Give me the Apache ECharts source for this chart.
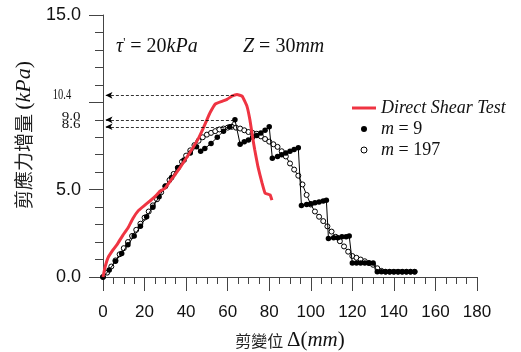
<!DOCTYPE html>
<html><head><meta charset="utf-8">
<script src="https://cdn.jsdelivr.net/npm/echarts@6/dist/echarts.min.js"></script>
<style>html,body{margin:0;padding:0;background:#fff}#c{width:521px;height:352px}</style>
</head><body><div id="c"></div>
<script>
// Displacement (mm) / shear stress increment (kPa)
const directShear = [[0,0],[1,0.57],[2.4,1.1],[4.8,1.55],[7,1.9],[9.6,2.4],[12,2.8],[14.4,3.35],[17,3.8],[20,4.1],[22.6,4.35],[25,4.6],[27.4,4.9],[30,5.1],[33,5.6],[37,6.25],[40,6.8],[43.3,7.4],[46,7.95],[48,8.45],[50,9.0],[51.5,9.4],[54,9.9],[57.3,10.06],[59.7,10.17],[62,10.35],[64.5,10.45],[67,10.35],[69.3,9.77],[70.7,9.0],[72,8.0],[73,7.3],[74.6,6.3],[76.5,5.4],[78,4.8],[80.4,4.7],[81.3,4.4]];
const m9 = [[0,0],[3,0.4],[6,0.9],[9,1.35],[12,1.85],[15,2.35],[18,2.9],[21,3.45],[24,4.0],[27,4.6],[30,5.2],[33,5.7],[36,6.25],[39,6.7],[42,7.1],[45,7.45],[47,7.2],[49,7.35],[52,7.65],[55,8.0],[58,8.35],[61,8.6],[63.5,9.0],[66,7.6],[68,7.75],[70,7.85],[72,8.0],[74,8.1],[76,8.25],[78,8.4],[80,8.6],[81.5,6.8],[84,6.9],[86,7.0],[88,7.1],[90,7.2],[92,7.3],[94,7.4],[95.5,4.1],[98,4.15],[100,4.2],[102,4.25],[104,4.3],[106,4.35],[107.5,4.4],[108.5,2.2],[111,2.25],[113,2.25],[115,2.3],[117,2.3],[118.5,2.35],[120,0.8],[122,0.8],[124,0.8],[126,0.8],[128,0.8],[130,0.8],[132,0.3],[134,0.3],[136,0.3],[138,0.3],[140,0.3],[142,0.3],[144,0.3],[146,0.3],[148,0.3],[150,0.3]];
const m197 = [[0,0],[2,0.25],[4,0.6],[6,0.95],[8,1.3],[10,1.65],[12,2.0],[14,2.35],[16,2.7],[18,3.05],[20,3.4],[22,3.75],[24,4.1],[26,4.45],[28,4.85],[30,5.2],[32,5.55],[34,5.9],[36,6.25],[38,6.6],[40,6.95],[42,7.25],[44,7.55],[46,7.8],[48,8.0],[50,8.15],[52,8.25],[54,8.35],[56,8.45],[58,8.5],[60,8.55],[62,8.6],[64,8.55],[66,8.5],[68,8.4],[70,8.3],[72,8.25],[74,8.2],[76,8.05],[78,7.9],[80,7.75],[82,7.6],[84,7.45],[86,7.2],[88,6.9],[90,6.5],[92,6.15],[94,5.8],[96,5.3],[98,4.7],[100,4.15],[102,3.75],[104,3.45],[106,3.2],[108,2.9],[110,2.6],[112,2.3],[114,2.05],[116,1.75],[118,1.45],[120,1.2],[122,1.1],[124,1.0],[126,0.9],[128,0.8],[130,0.7],[132,0.5],[134,0.35],[136,0.3],[138,0.3],[140,0.3],[142,0.3],[144,0.3],[146,0.3],[148,0.3],[150,0.3]];
const peakValues = [10.4, 9.0, 8.6];
const peakX = [63, 63, 63];
const xTicks = {min:0, max:180, interval:20};
const yTicks = {min:0, max:15, interval:5};

const serif = "Liberation Serif";
const sans = "Liberation Sans";
const cjk = "Noto Sans CJK TC";
const axisCol = '#444';

const chart = echarts.init(document.getElementById('c'), null, {renderer:'canvas'});
const markData = peakValues.map((v,i)=>[{coord:[peakX[i], v]},{coord:[1.2, v]}]);
const R = (o)=>Object.assign({fontFamily:serif, fontStyle:'normal', fontWeight:'normal', color:'#111'}, o);
chart.setOption({
  animation:false,
  grid:{left:103, right:44, top:15, bottom:75, outerBoundsMode:'none', containLabel:false},
  xAxis:{type:'value', min:xTicks.min, max:xTicks.max, interval:xTicks.interval,
    axisLine:{lineStyle:{color:axisCol,width:1}},
    axisTick:{length:14, lineStyle:{color:axisCol}},
    minorTick:{show:true, splitNumber:4, length:7, lineStyle:{color:axisCol}},
    splitLine:{show:false},
    axisLabel:{fontFamily:sans, fontSize:17, color:'#111', margin:27},
    name:'{c|剪變位 }{d|Δ}{p|(}{i|mm}{p|)}', nameLocation:'middle', nameGap:53,
    nameTextStyle:{rich:{c:{fontFamily:cjk,fontSize:16,color:'#222'},d:R({fontSize:21}),p:R({fontSize:21}),i:R({fontStyle:'italic',fontSize:21})}}
  },
  yAxis:{type:'value', min:yTicks.min, max:yTicks.max, interval:yTicks.interval,
    axisLine:{show:true, lineStyle:{color:axisCol,width:1}},
    axisTick:{show:true, length:14, lineStyle:{color:axisCol}},
    minorTick:{show:true, splitNumber:5, length:8, lineStyle:{color:axisCol}},
    splitLine:{show:false},
    axisLabel:{fontFamily:sans, fontSize:18, color:'#111', margin:22, formatter:v=> v===10 ? '' : v.toFixed(1)},
    name:'{c|剪應力增量 }{p|(}{i|kPa}{p|)}', nameLocation:'middle', nameGap:60,
    nameTextStyle:{padding:[0,0,0,22], rich:{c:{fontFamily:cjk,fontSize:19,color:'#222'},p:R({fontSize:22}),i:R({fontStyle:'italic',fontSize:22})}}
  },
  legend:{orient:'vertical', left:347, top:93, itemWidth:24, itemHeight:6, itemGap:1,
    textStyle:{fontFamily:serif, fontSize:18, lineHeight:20, color:'#111',
      rich:{i:R({fontStyle:'italic',fontSize:18}),r:R({fontSize:18})}},
    formatter:function(n){ if(n==='Direct Shear Test') return '{i|Direct Shear Test}'; const parts=n.split(' = '); return '{i|'+parts[0]+'}{r| = '+parts[1]+'}'; },
    data:[
      {name:'Direct Shear Test', icon:'path://M0,0L24,0L24,3L0,3Z', itemStyle:{color:'#ef3442'}},
      {name:'m = 9', icon:'circle', itemStyle:{color:'#000'}},
      {name:'m = 197', icon:'circle', itemStyle:{color:'#fff', borderColor:'#000', borderWidth:1}}
    ]},
  series:[
    {name:'m = 197', type:'line', data:m197, symbol:'circle', symbolSize:5, showSymbol:true, showAllSymbol:true,
      lineStyle:{color:'#000',width:1}, itemStyle:{color:'#fff', borderColor:'#000', borderWidth:1}, z:2},
    {name:'m = 9', type:'line', data:m9, symbol:'circle', symbolSize:5.5, showSymbol:true, showAllSymbol:true,
      lineStyle:{color:'#000',width:1}, itemStyle:{color:'#000'}, z:3,
      markLine:{silent:true, symbol:['none','arrow'], symbolSize:[5,7], label:{show:false},
        lineStyle:{color:'#000', type:[3,2], width:0.8}, data:markData}},
    {name:'Direct Shear Test', type:'line', data:directShear, showSymbol:false, smooth:0.1,
      lineStyle:{color:'#ef3442', width:3}, itemStyle:{color:'#ef3442'}, z:4}
  ]
});

// peak value labels and annotation text
const gfx = [];
const labelX = [62, 71, 71];
const labelDy = [0, -3, -2];
const labelSX = [0.7, 1, 1];
const labelSY = [1, 0.8, 0.8];
peakValues.forEach((v,i)=>{
  const p = chart.convertToPixel({gridIndex:0}, [0, v]);
  gfx.push({type:'text', x:labelX[i], y:p[1]+labelDy[i], scaleX:labelSX[i], scaleY:labelSY[i],
    style:{text:v.toFixed(1), fontFamily:serif, fontSize:15, fill:'#111', align:'center', verticalAlign:'middle'}});
});
const GR = (o)=>Object.assign({fontFamily:serif, fontStyle:'normal', fontWeight:'normal', fontSize:20, fill:'#111'}, o);
gfx.push({type:'text', left:116, top:37, style:{rich:{i:GR({fontStyle:'italic'}),s:GR({fontSize:12, padding:[0,0,8,0]}),r:GR({})}, text:"{i|τ}{s|'}{r| = 20}{i|kPa}"}});
gfx.push({type:'text', left:243, top:37, style:{rich:{i:GR({fontStyle:'italic'}),r:GR({})}, text:"{i|Z}{r| = 30}{i|mm}"}});
chart.setOption({graphic:gfx});
</script></body></html>
